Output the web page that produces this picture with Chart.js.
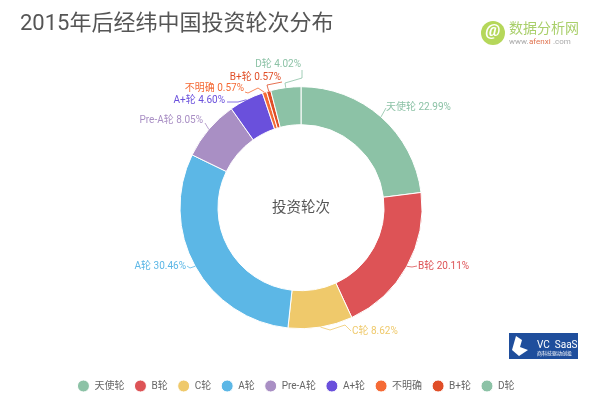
<!DOCTYPE html>
<html>
<head>
<meta charset="utf-8">
<script src="https://cdn.jsdelivr.net/npm/chart.js@4/dist/chart.umd.min.js"></script>
<style>
  html, body { margin: 0; padding: 0; background: #fff; }
  #wrap { width: 600px; height: 402px; }
</style>
</head>
<body>
<div id="wrap"><canvas id="chart" width="600" height="402"></canvas></div>
<script>
const categories = ["天使轮", "B轮", "C轮", "A轮", "Pre-A轮", "A+轮", "不明确", "B+轮", "D轮"];
const shares = [22.99, 20.11, 8.62, 30.46, 8.05, 4.60, 0.57, 0.57, 4.02];
const colors = ["#8cc2a6", "#dd5356", "#efc96b", "#5cb7e6", "#a98fc4", "#6a50dc", "#f56a35", "#e04e27", "#8cc2a6"];

// where each slice's label sits: text anchor, then the bends of its leader line
const labelSpots = [
  { x: 386, y: 107, align: "left", bends: [[386, 108]] },
  { x: 418, y: 266, align: "left", bends: [[412, 267], [417, 266]] },
  { x: 352, y: 331, align: "left", bends: [[330, 330], [345, 325], [351, 331]] },
  { x: 186, y: 266, align: "right", bends: [[190, 268], [187, 266]] },
  { x: 203, y: 120, align: "right", bends: [[205, 123]] },
  { x: 225, y: 100, align: "right", bends: [[238, 102], [227, 102]] },
  { x: 244, y: 88, align: "right", bends: [[258, 88], [248, 93], [245, 92]] },
  { x: 281, y: 77, align: "right", bends: [[267, 85], [282, 82]] },
  { x: 301, y: 64, align: "right", bends: [[285, 83], [302, 78], [302, 70]] },
];

const cjk = 'Roboto, "Noto Sans CJK SC", sans-serif';

// leader lines, slice labels and the center text
const sliceLabels = {
  id: "sliceLabels",
  afterLayout(chart) {
    // the legend sits a little left of the doughnut in the original
    chart.legend.left -= 5;
    chart.legend.right -= 5;
  },
  afterDatasetsDraw(chart) {
    const { ctx } = chart;
    const arcs = chart.getDatasetMeta(0).data;
    ctx.save();
    arcs.forEach((arc, i) => {
      const spot = labelSpots[i];
      const mid = (arc.startAngle + arc.endAngle) / 2;
      ctx.strokeStyle = colors[i];
      ctx.lineWidth = 0.8;
      ctx.beginPath();
      ctx.moveTo(arc.x + Math.cos(mid) * arc.outerRadius, arc.y + Math.sin(mid) * arc.outerRadius);
      spot.bends.forEach((p) => ctx.lineTo(p[0], p[1]));
      ctx.stroke();

      ctx.fillStyle = colors[i];
      ctx.font = "10px " + cjk;
      ctx.textAlign = spot.align;
      ctx.textBaseline = "middle";
      ctx.fillText(categories[i] + " " + shares[i].toFixed(2) + "%", spot.x, spot.y);
    });
    ctx.fillStyle = "#555";
    ctx.font = "14.5px " + cjk;
    ctx.textAlign = "center";
    ctx.textBaseline = "middle";
    ctx.fillText("投资轮次", arcs[0].x, arcs[0].y + 1);
    ctx.restore();
  },
};

// the two watermark logos in the corners
const logos = {
  id: "logos",
  afterDraw(chart) {
    const { ctx } = chart;
    ctx.save();
    ctx.fillStyle = "#b5d75a";
    ctx.beginPath();
    ctx.arc(493, 33, 12, 0, Math.PI * 2);
    ctx.fill();
    ctx.fillStyle = "#fff";
    ctx.font = "italic bold 17px Roboto, sans-serif";
    ctx.textAlign = "center";
    ctx.textBaseline = "middle";
    ctx.fillText("@", 493, 32);
    ctx.textAlign = "left";
    ctx.fillStyle = "#a9cf6a";
    ctx.font = "14px " + cjk;
    ctx.fillText("数据分析网", 509, 29);
    ctx.font = "8px Roboto, sans-serif";
    ctx.fillStyle = "#aaa";
    ctx.fillText("www.", 509, 42);
    ctx.fillStyle = "#e0734f";
    ctx.fillText("afenxi", 529, 42);
    ctx.fillStyle = "#aaa";
    ctx.fillText(".com", 553, 42);

    ctx.fillStyle = "#1f4e9c";
    ctx.fillRect(509, 333, 69, 26);
    ctx.fillStyle = "#fff";
    ctx.beginPath();
    ctx.moveTo(516, 336);
    ctx.lineTo(522, 340);
    ctx.lineTo(520, 347);
    ctx.lineTo(528, 350);
    ctx.lineTo(519, 356);
    ctx.lineTo(512, 350);
    ctx.closePath();
    ctx.fill();
    ctx.font = "10px Roboto, sans-serif";
    ctx.fillText("VC  SaaS", 537, 345);
    ctx.font = "5px " + cjk;
    ctx.fillText("商科技驱动创投", 537, 354);
    ctx.restore();
  },
};

new Chart(document.getElementById("chart").getContext("2d"), {
  type: "doughnut",
  data: {
    labels: categories,
    datasets: [
      {
        data: shares,
        backgroundColor: colors,
        borderColor: "#fff",
        borderWidth: 1,
      },
    ],
  },
  plugins: [sliceLabels, logos],
  options: {
    responsive: false,
    animation: false,
    rotation: 0,
    radius: 121,
    cutout: "68.6%",
    layout: { padding: { left: 20, right: 18, top: 0, bottom: 1 } },
    plugins: {
      tooltip: { enabled: false },
      title: {
        display: true,
        text: "2015年后经纬中国投资轮次分布",
        align: "start",
        color: "#555",
        font: { family: cjk, size: 22, weight: "normal" },
        padding: { top: 11, bottom: 7 },
      },
      legend: {
        position: "bottom",
        labels: {
          usePointStyle: true,
          pointStyle: "circle",
          pointStyleWidth: 12,
          boxHeight: 8.5,
          padding: 10,
          color: "#666",
          font: { family: cjk, size: 10 },
        },
      },
    },
  },
});
</script>
</body>
</html>
